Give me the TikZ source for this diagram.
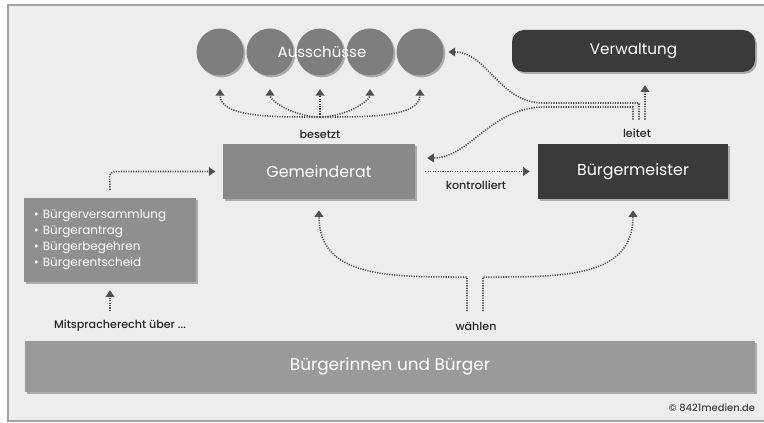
\documentclass[tikz,border=0pt]{standalone}
\usepackage{fontspec}
\setmainfont{Poppins}
\newfontfamily\lblfont{Poppins Medium}
\usepackage{tikz}
\usetikzlibrary{arrows.meta,shadows,calc}

\definecolor{hintergrund}{HTML}{EDEDED}
\definecolor{rahmen}{HTML}{A2A2A2}
\definecolor{kreisgrau}{HTML}{7E7E7E}
\definecolor{boxgrau}{HTML}{898989}
\definecolor{bodengrau}{HTML}{9A9A9A}
\definecolor{dunkel}{HTML}{3A3A3A}
\definecolor{pfeilgrau}{HTML}{505050}

\tikzset{
  schatten/.style={drop shadow={shadow xshift=1.6pt,shadow yshift=-1.6pt,opacity=0.4,fill=black!70}},
  graubox/.style={rectangle,fill=boxgrau,schatten,text=white,font=\fontsize{13.5}{15}\selectfont},
  dunkelbox/.style={graubox,fill=dunkel},
  gremium/.style={circle,fill=kreisgrau,minimum size=14.1mm,schatten},
  pfeil/.style={pfeilgrau,line width=1.3pt,dash pattern=on 1pt off 1.1pt,
    -{Triangle[width=2.6mm,length=2mm]}},
  lbl/.style={text=black!85,font=\lblfont\fontsize{9.5}{10}\selectfont}
}

\begin{document}
\begin{tikzpicture}[x=0.3mm,y=-0.3mm]
\useasboundingbox (0,0) rectangle (764,423);
\draw[rahmen,line width=1.3pt,fill=hintergrund] (8,5) rectangle (775,421);

% Ausschuesse
\foreach \i/\x in {1/220,2/270,3/320,4/370,5/420}
  \node[gremium] (a\i) at (\x,52) {};
\node[text=white,font=\fontsize{12.8}{14}\selectfont] (ausschuesse) at (322,52) {Ausschüsse};

% Boxen
\node[dunkelbox,rounded corners=3.6mm,minimum width=72.9mm,minimum height=12.6mm,font=\fontsize{13}{14}\selectfont] (verwaltung) at (633.5,51) {Verwaltung};
\node[graubox,minimum width=57.6mm,minimum height=16.5mm] (gemeinderat) at (319,171.5) {Gemeinderat};
\node[dunkelbox,minimum width=57mm,minimum height=16.5mm] (buergermeister) at (633,171.5) {Bürgermeister};
\node[graubox,fill=boxgrau!95!white,minimum width=51.6mm,minimum height=25.2mm,text width=45.6mm,
  inner xsep=3mm,align=left,font=\fontsize{10.2}{13.6}\selectfont] (rechte) at (110,240)
  {\textbullet\ Bürgerversammlung\\ \textbullet\ Bürgerantrag\\ \textbullet\ Bürgerbegehren\\ \textbullet\ Bürgerentscheid};
\node[graubox,fill=bodengrau,minimum width=219mm,minimum height=15.3mm,font=\fontsize{14.4}{16}\selectfont] (buerger) at (390,366.5) {Bürgerinnen und Bürger};

% Beschriftungen
\node[lbl] (besetzt) at (320,134) {besetzt};
\node[lbl] (leitet) at (637,133) {leitet};
\node[lbl] (kontrolliert) at (476,185) {kontrolliert};
\node[lbl] (waehlen) at (476,326) {wählen};
\node[lbl] (mitsprache) at (120,326) {Mitspracherecht über ...};
\node[text=black!75,font=\lblfont\fontsize{8.5}{9}\selectfont] (copy) at (712,408) {© 8421medien.de};

% besetzt
\coordinate (hub) at (320,117);
\foreach \i in {1,2}
  \draw[pfeil,shorten >=4mm] (hub) to[out=180,in=-90] (a\i.south);
\draw[pfeil,shorten >=4mm] (hub) -- (a3.south);
\foreach \i in {4,5}
  \draw[pfeil,shorten >=4mm] (hub) to[out=0,in=-90] (a\i.south);

% Mitsprache
\draw[pfeil,shorten <=1.5mm,shorten >=2.4mm] (mitsprache.north -| rechte.south) -- (rechte.south);
\draw[pfeil,shorten >=2.2mm] ([yshift=2.4mm]rechte.north) .. controls +(0,5mm) and +(-5mm,0) .. ([xshift=-30mm]gemeinderat.west) -- (gemeinderat.west);

% kontrolliert
\draw[pfeil,shorten <=3mm,shorten >=2.4mm] (gemeinderat.east) -- (buergermeister.west);

% leitet
\draw[pfeil,shorten >=3.9mm] ([xshift=2.4mm,yshift=1.5mm]leitet.north) -- ([xshift=3.45mm]verwaltung.south);
\draw[pfeil,shorten >=1.4mm] ([xshift=0.6mm,yshift=1.5mm]leitet.north) |- (543,103) to[out=180,in=0] (a5.east);
\draw[pfeil,shorten >=3.6mm] ([xshift=-1.2mm,yshift=1.5mm]leitet.north) |- (545,107) to[out=180,in=0] ([yshift=4.05mm]gemeinderat.east);

% waehlen
\draw[pfeil,shorten >=3.3mm] ([xshift=-2.7mm,yshift=2mm]waehlen.north) -- ++(0,-34) to[out=180,in=-90,looseness=1.2] (gemeinderat.south);
\draw[pfeil,shorten >=3.3mm] ([xshift=2.1mm,yshift=2mm]waehlen.north) -- ++(0,-34) to[out=0,in=-90,looseness=1.2] (buergermeister.south);
\end{tikzpicture}
\end{document}
